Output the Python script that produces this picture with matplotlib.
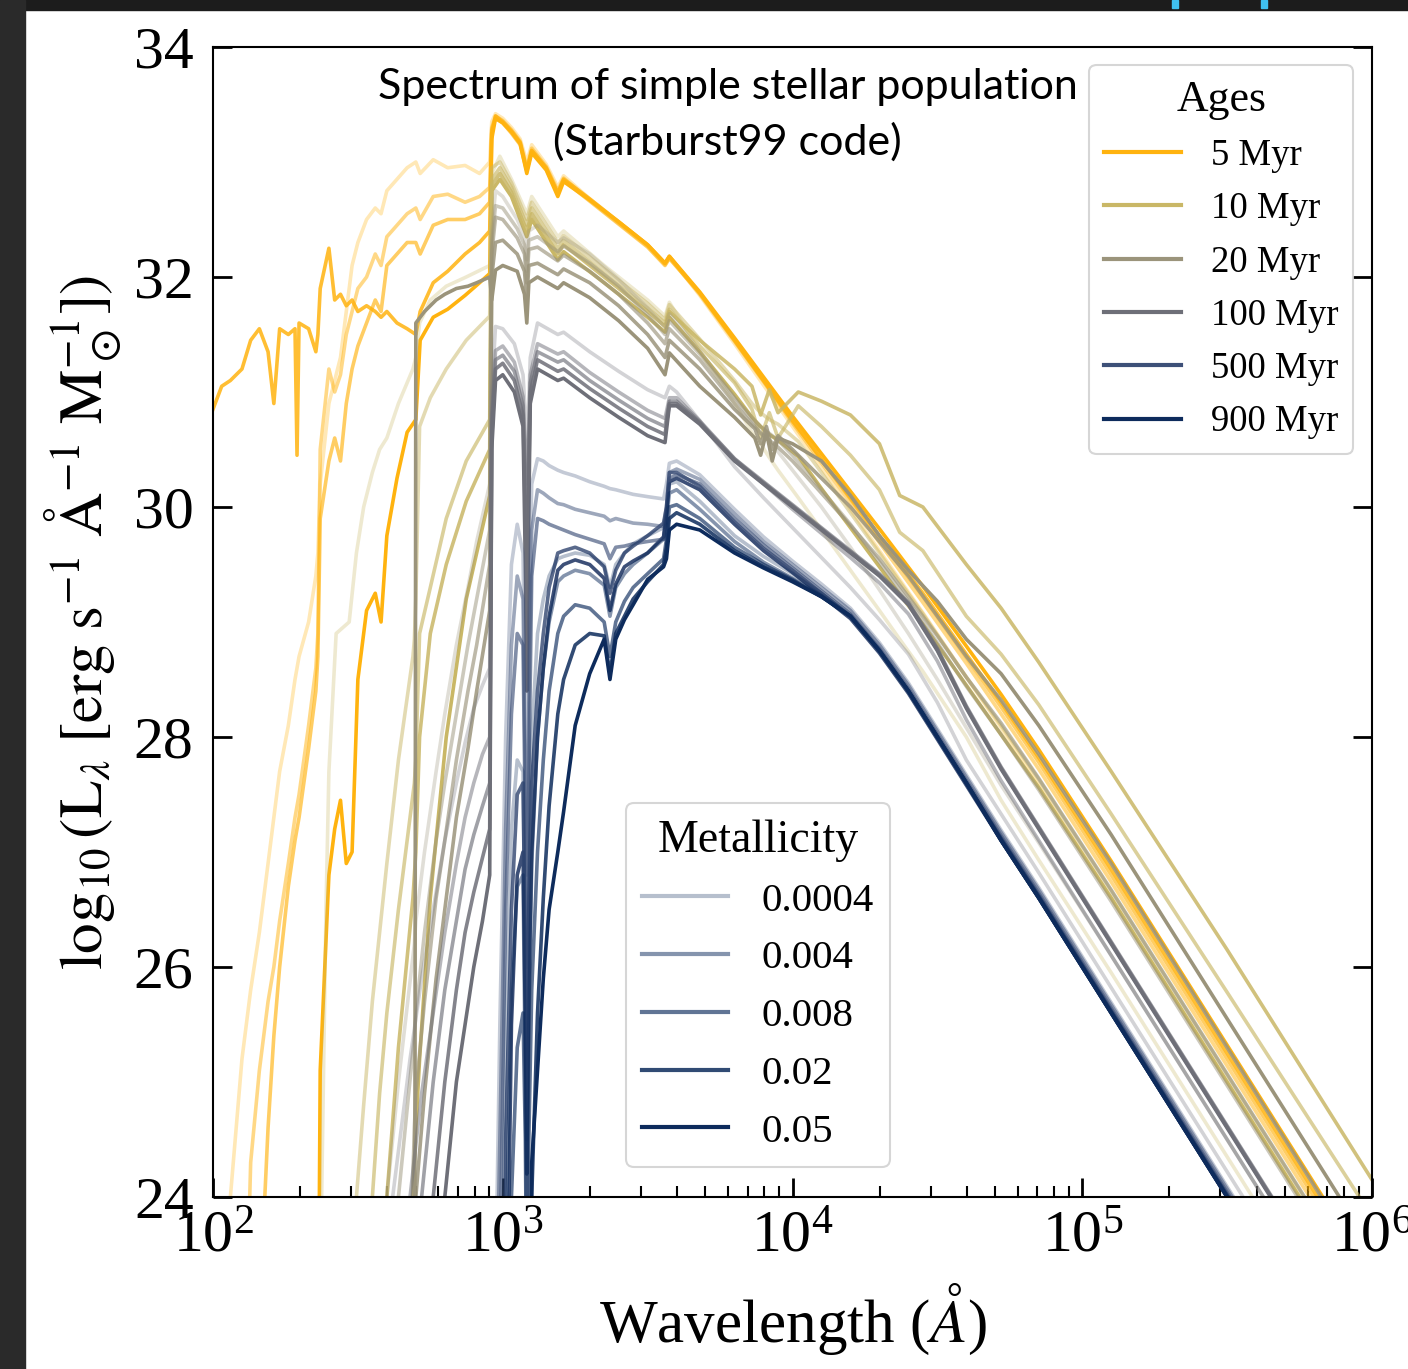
import numpy as np
import matplotlib.pyplot as plt
from matplotlib.lines import Line2D
from matplotlib.patches import Rectangle

plt.rcParams['font.family'] = ['Liberation Serif', 'DejaVu Serif']
plt.rcParams['mathtext.fontset'] = 'stix'

ages = ['5 Myr', '10 Myr', '20 Myr', '100 Myr', '500 Myr', '900 Myr']
age_colors = ['#FFB30F', '#C9B766', '#9B947B', '#6E6F78', '#3D5078', '#0D2B5C']
metallicities = ['0.0004', '0.004', '0.008', '0.02', '0.05']
z_alpha = [0.3, 0.5, 0.65, 0.85, 1.0]

# log10(wavelength / A) grids, one per age; rows of lum = one per metallicity
wave_5myr = [2.00, 2.03, 2.06, 2.10, 2.13, 2.16, 2.19, 2.21, 2.23, 2.26,
             2.283, 2.29, 2.297, 2.33, 2.355, 2.362, 2.37, 2.40, 2.42, 2.44,
             2.46, 2.48, 2.50, 2.53, 2.56, 2.58, 2.60, 2.635, 2.67, 2.70,
             2.715, 2.76, 2.81, 2.87, 2.92, 2.955,
             2.962, 2.975, 3.00, 3.03, 3.06, 3.083, 3.10, 3.15, 3.19, 3.21,
             3.30, 3.40, 3.50, 3.56, 3.575,
             3.68, 3.80, 3.90, 4.00, 4.15, 4.30, 4.45, 4.60, 4.72, 4.85, 5.10, 5.50, 6.00]
lum_5myr = [
    [20.0, 21.5, 24.0, 25.2, 25.8, 26.3, 26.9, 27.3, 27.7, 28.1,
     28.5, 28.6, 28.7, 29.0, 29.4, 29.6, 30.2, 30.9, 31.1, 31.3,
     31.7, 32.1, 32.3, 32.5, 32.6, 32.55, 32.75, 32.85, 32.95, 33.0,
     32.9, 33.02, 32.95, 32.97, 32.9, 33.0,
     33.35, 33.42, 33.38, 33.3, 33.2, 33.0, 33.15, 32.98, 32.78, 32.88,
     32.68, 32.48, 32.28, 32.12, 32.18,
     31.84, 31.42, 31.06, 30.7, 30.16, 29.62, 29.08, 28.52, 28.08, 27.58, 26.6, 25.0, 23.0],
    [20.0, 20.0, 20.0, 21.5, 24.3, 25.1, 25.7, 26.0, 26.4, 26.9,
     27.3, 27.4, 27.5, 28.1, 28.6, 28.9, 30.5, 31.2, 31.0, 31.15,
     31.5, 31.7, 31.9, 32.0, 32.2, 32.1, 32.35, 32.45, 32.55, 32.6,
     32.5, 32.7, 32.72, 32.65, 32.7, 32.78,
     33.3, 33.4, 33.36, 33.28, 33.18, 32.95, 33.12, 32.96, 32.75, 32.86,
     32.67, 32.47, 32.27, 32.11, 32.17,
     31.85, 31.44, 31.09, 30.73, 30.21, 29.69, 29.17, 28.64, 28.2, 27.72, 26.74, 25.14, 23.14],
    [20.0, 20.0, 20.0, 20.0, 20.0, 23.0, 24.6, 25.4, 26.0, 26.7,
     27.1, 27.2, 27.3, 27.9, 28.4, 28.7, 29.9, 30.4, 30.6, 30.4,
     30.9, 31.2, 31.4, 31.6, 31.8, 31.7, 32.1, 32.2, 32.3, 32.3,
     32.2, 32.45, 32.5, 32.5, 32.55, 32.65,
     33.28, 33.38, 33.34, 33.25, 33.15, 32.92, 33.1, 32.94, 32.72, 32.84,
     32.66, 32.46, 32.26, 32.1, 32.16,
     31.86, 31.45, 31.1, 30.75, 30.24, 29.73, 29.22, 28.69, 28.26, 27.78, 26.8, 25.2, 23.2],
    [30.85, 31.05, 31.1, 31.2, 31.45, 31.55, 31.35, 30.9, 31.55, 31.5,
     31.55, 30.45, 31.6, 31.55, 31.35, 31.5, 31.9, 32.25, 31.8, 31.85,
     31.75, 31.8, 31.7, 31.75, 31.7, 31.65, 31.7, 31.6, 31.55, 31.5,
     31.7, 31.95, 32.05, 32.2, 32.3, 32.4,
     33.25, 33.4, 33.35, 33.27, 33.17, 32.93, 33.1, 32.95, 32.73, 32.85,
     32.68, 32.48, 32.28, 32.12, 32.18,
     31.86, 31.45, 31.1, 30.75, 30.25, 29.75, 29.25, 28.72, 28.3, 27.82, 26.85, 25.25, 23.25],
    [20.0, 20.0, 20.0, 20.0, 20.0, 20.0, 20.0, 20.0, 20.0, 20.0,
     20.0, 20.0, 20.0, 20.0, 20.0, 22.0, 25.1, 26.8, 27.2, 27.45,
     26.9, 27.0, 28.5, 29.1, 29.25, 29.0, 29.75, 30.25, 30.65, 30.76,
     31.45, 31.65, 31.72, 31.84, 31.95, 32.03,
     33.2, 33.38, 33.34, 33.26, 33.16, 32.9, 33.08, 32.93, 32.7, 32.83,
     32.67, 32.48, 32.28, 32.12, 32.18,
     31.87, 31.47, 31.13, 30.79, 30.3, 29.81, 29.31, 28.79, 28.37, 27.89, 26.92, 25.32, 23.32],
]

wave_10myr = [2.36, 2.375, 2.39, 2.40, 2.425, 2.47, 2.495, 2.52, 2.55, 2.575,
              2.60, 2.64, 2.69, 2.695, 2.70, 2.713, 2.75, 2.805, 2.874, 2.955,
              2.962, 2.99, 3.03, 3.083, 3.10, 3.19, 3.21, 3.35, 3.50, 3.56, 3.575,
              3.68, 3.80, 3.86, 3.89, 3.92, 3.95, 4.02, 4.10, 4.20, 4.30,
              4.37, 4.45, 4.60, 4.72, 4.85, 5.10, 5.50, 6.00]
lum_10myr = [
    [20.0, 24.0, 26.5, 27.7, 28.9, 29.0, 29.6, 30.0, 30.3, 30.5,
     30.6, 30.9, 31.2, 31.25, 31.3, 31.6, 31.8, 31.92, 32.0, 32.1,
     32.9, 33.05, 32.85, 32.55, 32.7, 32.35, 32.4, 32.1, 31.8, 31.66, 31.78,
     31.35, 30.9, 30.65, 30.55, 30.43, 30.32, 30.08, 29.8, 29.45, 29.1,
     28.85, 28.57, 28.0, 27.45, 26.93, 25.95, 24.35, 22.35],
    [20.0, 20.0, 20.0, 20.0, 20.0, 20.0, 24.0, 24.8, 25.7, 26.3,
     26.9, 27.8, 28.7, 28.85, 29.2, 30.7, 30.95, 31.2, 31.45, 31.66,
     32.95, 33.0, 32.82, 32.5, 32.65, 32.3, 32.36, 32.07, 31.77, 31.63, 31.76,
     31.46, 31.1, 30.9, 30.82, 30.76, 30.72, 30.57, 30.3, 29.95, 29.6,
     29.35, 29.07, 28.52, 28.1, 27.63, 26.66, 25.06, 23.06],
    [20.0, 20.0, 20.0, 20.0, 20.0, 20.0, 20.0, 22.0, 24.0, 24.9,
     25.6, 26.5, 27.5, 27.6, 27.8, 28.9, 29.3, 29.9, 30.4, 30.76,
     32.85, 32.95, 32.78, 32.45, 32.6, 32.25, 32.32, 32.03, 31.73, 31.6, 31.72,
     31.4, 31.08, 30.85, 30.6, 30.82, 30.6, 30.88, 30.7, 30.45, 30.15,
     29.78, 29.62, 29.05, 28.72, 28.28, 27.33, 25.78, 23.83],
    [20.0, 20.0, 20.0, 20.0, 20.0, 20.0, 20.0, 20.0, 20.0, 22.0,
     24.0, 25.3, 26.6, 26.8, 27.0, 28.0, 28.9, 29.5, 30.05, 30.5,
     32.8, 32.9, 32.74, 32.4, 32.55, 32.2, 32.28, 32.0, 31.7, 31.57, 31.7,
     31.45, 31.2, 31.05, 30.8, 31.02, 30.82, 31.0, 30.92, 30.8, 30.55,
     30.1, 30.0, 29.5, 29.12, 28.65, 27.7, 26.15, 24.15],
    [20.0, 20.0, 20.0, 20.0, 20.0, 20.0, 20.0, 20.0, 20.0, 20.0,
     20.0, 22.0, 24.0, 24.3, 24.6, 25.2, 26.6, 28.0, 29.2, 30.1,
     32.75, 32.85, 32.7, 32.35, 32.5, 32.15, 32.22, 31.95, 31.65, 31.52, 31.65,
     31.35, 30.98, 30.78, 30.7, 30.63, 30.58, 30.44, 30.16, 29.82, 29.48,
     29.24, 28.98, 28.45, 28.02, 27.56, 26.6, 25.0, 23.0],
]

wave_20myr = [2.60, 2.64, 2.695, 2.70, 2.73, 2.77, 2.80, 2.84, 2.88, 2.91, 2.955,
              2.962, 2.975, 3.00, 3.05, 3.075, 3.083, 3.09, 3.12, 3.19, 3.21,
              3.30, 3.40, 3.50, 3.56, 3.575,
              3.68, 3.80, 3.87, 3.89, 3.91, 3.93, 3.95, 4.00, 4.10, 4.20,
              4.30, 4.40, 4.50, 4.60, 4.72, 4.85, 5.10, 5.50, 6.00]
lum_20myr = [
    [24.0, 25.0, 26.2, 26.4, 27.0, 27.7, 28.2, 28.8, 29.3, 29.7, 30.2,
     32.4, 32.75, 32.7, 32.5, 32.35, 32.15, 32.4, 32.45, 32.3, 32.34,
     32.2, 31.98, 31.73, 31.56, 31.68,
     31.36, 30.95, 30.72, 30.65, 30.6, 30.54, 30.48, 30.32, 30.0, 29.65,
     29.28, 28.9, 28.5, 28.08, 27.58, 27.08, 26.1, 24.5, 22.5],
    [20.0, 24.0, 25.4, 25.6, 26.3, 27.1, 27.6, 28.2, 28.8, 29.2, 29.8,
     32.3, 32.62, 32.6, 32.42, 32.28, 32.05, 32.32, 32.35, 32.22, 32.27,
     32.12, 31.92, 31.67, 31.5, 31.62,
     31.33, 30.95, 30.75, 30.7, 30.66, 30.62, 30.58, 30.45, 30.15, 29.85,
     29.52, 29.18, 28.82, 28.44, 28.02, 27.54, 26.57, 24.97, 22.97],
    [20.0, 20.0, 24.6, 24.9, 25.7, 26.6, 27.1, 27.8, 28.4, 28.8, 29.5,
     32.2, 32.52, 32.5, 32.34, 32.2, 31.95, 32.24, 32.26, 32.14, 32.19,
     32.05, 31.85, 31.6, 31.42, 31.55,
     31.28, 30.9, 30.7, 30.64, 30.6, 30.56, 30.52, 30.4, 30.12, 29.84,
     29.55, 29.22, 28.88, 28.52, 28.12, 27.64, 26.67, 25.07, 23.07],
    [20.0, 20.0, 22.0, 24.0, 24.9, 25.9, 26.5, 27.3, 27.9, 28.4, 29.1,
     32.0, 32.3, 32.32, 32.2, 32.05, 31.8, 32.1, 32.12, 32.02, 32.07,
     31.95, 31.75, 31.5, 31.3, 31.45,
     31.2, 30.85, 30.68, 30.55, 30.7, 30.5, 30.62, 30.5, 30.25, 30.0,
     29.7, 29.4, 29.05, 28.7, 28.32, 27.85, 26.9, 25.3, 23.3],
    [20.0, 20.0, 20.0, 31.6, 31.7, 31.8, 31.85, 31.9, 31.92, 31.95, 32.0,
     31.8, 32.06, 32.1, 32.05, 31.85, 31.6, 31.95, 32.0, 31.9, 31.95,
     31.82, 31.62, 31.38, 31.15, 31.34,
     31.05, 30.78, 30.6, 30.45, 30.65, 30.4, 30.6, 30.55, 30.4, 30.1,
     29.75, 29.45, 29.18, 28.85, 28.55, 28.1, 27.15, 25.55, 23.55],
]

wave_100myr = [2.62, 2.68, 2.72, 2.76, 2.80, 2.84, 2.87, 2.90, 2.93, 2.955,
               2.962, 2.975, 3.00, 3.04, 3.07, 3.078, 3.083, 3.088, 3.095, 3.12,
               3.19, 3.21, 3.30, 3.40, 3.50, 3.56, 3.575,
               3.60, 3.68, 3.80, 3.90, 4.00, 4.10, 4.20, 4.30, 4.40, 4.50,
               4.60, 4.72, 4.85, 5.10, 5.50, 6.00]
lum_100myr = [
    [24.0, 25.2, 25.9, 26.5, 27.1, 27.6, 27.95, 28.25, 28.45, 28.6,
     31.0, 31.57, 31.55, 31.42, 31.15, 30.8, 30.2, 30.8, 31.3, 31.6,
     31.5, 31.52, 31.35, 31.18, 31.02, 30.95, 31.05,
     31.0, 30.75, 30.35, 30.08, 29.82, 29.56, 29.3, 29.02, 28.72, 28.3,
     27.8, 27.33, 26.82, 25.82, 24.22, 22.22],
    [20.0, 24.0, 24.9, 25.6, 26.3, 26.9, 27.3, 27.6, 27.85, 28.0,
     30.8, 31.36, 31.4, 31.26, 30.96, 30.5, 29.6, 30.5, 31.15, 31.42,
     31.33, 31.35, 31.17, 31.0, 30.84, 30.77, 30.95,
     30.95, 30.75, 30.42, 30.2, 29.98, 29.77, 29.56, 29.34, 29.07, 28.66,
     28.15, 27.62, 27.1, 26.1, 24.5, 22.5],
    [20.0, 20.0, 24.0, 25.0, 25.8, 26.4, 26.85, 27.15, 27.4, 27.6,
     30.7, 31.28, 31.32, 31.18, 30.88, 30.2, 29.3, 30.3, 31.08, 31.35,
     31.26, 31.28, 31.1, 30.93, 30.77, 30.7, 30.92,
     30.92, 30.74, 30.42, 30.22, 30.02, 29.82, 29.62, 29.42, 29.17, 28.77,
     28.27, 27.74, 27.22, 26.22, 24.62, 22.62],
    [20.0, 20.0, 20.0, 24.0, 25.0, 25.8, 26.3, 26.65, 26.95, 27.2,
     30.6, 31.2, 31.25, 31.1, 30.8, 29.9, 28.9, 30.0, 31.0, 31.28,
     31.18, 31.2, 31.03, 30.86, 30.7, 30.63, 30.9,
     30.9, 30.73, 30.41, 30.21, 30.01, 29.81, 29.61, 29.41, 29.16, 28.76,
     28.26, 27.73, 27.21, 26.21, 24.61, 22.61],
    [20.0, 20.0, 20.0, 20.0, 24.0, 25.0, 25.5, 26.0, 26.4, 26.8,
     30.5, 31.1, 31.15, 31.0, 30.7, 29.5, 28.4, 29.6, 30.9, 31.2,
     31.1, 31.12, 30.95, 30.78, 30.62, 30.56, 30.88,
     30.88, 30.72, 30.4, 30.2, 30.0, 29.8, 29.6, 29.4, 29.15, 28.75,
     28.25, 27.72, 27.2, 26.2, 24.6, 22.6],
]

wave_old = [2.955, 2.99, 3.01, 3.03, 3.05, 3.07, 3.078, 3.083, 3.09, 3.10,
            3.12, 3.14, 3.16, 3.19, 3.21, 3.25, 3.30, 3.35, 3.37, 3.39,
            3.42, 3.45, 3.50, 3.555, 3.565, 3.575, 3.60,
            3.68, 3.80, 3.90, 4.00, 4.10, 4.20, 4.30, 4.40, 4.50, 4.60,
            4.72, 4.85, 5.10, 5.50, 6.00]
lum_500myr = [
    [20.0, 25.5, 28.0, 29.5, 29.85, 29.6, 28.0, 26.8, 29.0, 30.2,
     30.42, 30.4, 30.36, 30.32, 30.3, 30.27, 30.22, 30.18, 30.16, 30.15,
     30.13, 30.11, 30.09, 30.07, 30.2, 30.38, 30.4,
     30.28, 29.98, 29.74, 29.53, 29.33, 29.12, 28.82, 28.47, 28.07, 27.67,
     27.19, 26.69, 25.69, 24.09, 22.09],
    [20.0, 24.5, 27.2, 28.8, 29.4, 29.2, 27.6, 26.0, 28.3, 29.8,
     30.15, 30.12, 30.08, 30.03, 30.02, 29.98, 29.95, 29.92, 29.88, 29.9,
     29.88, 29.86, 29.85, 29.83, 30.0, 30.3, 30.33,
     30.24, 29.94, 29.7, 29.5, 29.3, 29.1, 28.8, 28.45, 28.05, 27.65,
     27.17, 26.67, 25.67, 24.07, 22.07],
    [20.0, 23.5, 26.5, 28.2, 28.9, 28.8, 27.2, 25.5, 27.6, 29.4,
     29.9, 29.88, 29.85, 29.82, 29.8, 29.76, 29.72, 29.68, 29.55, 29.65,
     29.66, 29.68, 29.7, 29.72, 29.95, 30.25, 30.28,
     30.2, 29.9, 29.67, 29.47, 29.27, 29.07, 28.77, 28.42, 28.02, 27.62,
     27.14, 26.64, 25.64, 24.04, 22.04],
    [20.0, 20.0, 24.5, 26.5, 27.5, 27.6, 26.0, 25.0, 26.5, 27.6,
     28.4, 28.9, 29.3, 29.6, 29.62, 29.65, 29.6, 29.48, 29.25, 29.45,
     29.6, 29.66, 29.75, 29.86, 30.0, 30.3, 30.3,
     30.18, 29.87, 29.64, 29.45, 29.25, 29.05, 28.75, 28.4, 28.0, 27.6,
     27.12, 26.62, 25.62, 24.02, 22.02],
    [20.0, 20.0, 22.0, 25.5, 26.8, 27.0, 25.5, 24.2, 25.8, 27.0,
     28.0, 28.6, 29.05, 29.45, 29.5, 29.54, 29.5, 29.38, 29.1, 29.33,
     29.48, 29.53, 29.6, 29.74, 29.95, 30.22, 30.25,
     30.15, 29.85, 29.62, 29.43, 29.23, 29.03, 28.73, 28.38, 27.98, 27.58,
     27.1, 26.6, 25.6, 24.0, 22.0],
]
lum_900myr = [
    [20.0, 22.0, 25.5, 27.2, 27.8, 27.7, 26.0, 24.5, 26.6, 28.0,
     28.9, 29.2, 29.4, 29.55, 29.57, 29.6, 29.58, 29.5, 29.3, 29.5,
     29.6, 29.68, 29.75, 29.82, 29.95, 30.2, 30.22,
     30.05, 29.75, 29.57, 29.42, 29.25, 29.06, 28.76, 28.4, 28.0, 27.6,
     27.12, 26.62, 25.62, 24.02, 22.02],
    [20.0, 20.0, 23.5, 25.8, 26.7, 26.8, 25.0, 23.5, 25.5, 26.9,
     28.0, 28.6, 29.0, 29.35, 29.4, 29.45, 29.42, 29.32, 29.05, 29.3,
     29.42, 29.5, 29.6, 29.72, 29.88, 30.12, 30.15,
     29.98, 29.7, 29.52, 29.38, 29.23, 29.05, 28.75, 28.4, 28.0, 27.6,
     27.11, 26.61, 25.61, 24.01, 22.01],
    [20.0, 20.0, 20.0, 24.0, 25.3, 25.6, 24.5, 23.0, 24.5, 25.8,
     27.0, 27.8, 28.4, 28.9, 29.05, 29.15, 29.12, 29.0, 28.7, 29.0,
     29.18, 29.3, 29.42, 29.55, 29.72, 30.0, 30.02,
     29.9, 29.65, 29.5, 29.37, 29.22, 29.05, 28.75, 28.4, 28.0, 27.6,
     27.1, 26.6, 25.6, 24.0, 22.0],
    [20.0, 20.0, 20.0, 20.0, 22.0, 23.5, 22.5, 21.0, 22.5, 24.0,
     25.6, 26.6, 27.4, 28.2, 28.5, 28.8, 28.9, 28.88, 28.55, 28.9,
     29.05, 29.2, 29.35, 29.5, 29.65, 29.9, 29.95,
     29.85, 29.62, 29.48, 29.36, 29.22, 29.05, 28.75, 28.4, 28.0, 27.6,
     27.1, 26.6, 25.6, 24.0, 22.0],
    [20.0, 20.0, 20.0, 20.0, 20.0, 20.0, 20.0, 20.0, 21.0, 24.3,
     25.1, 25.9, 26.5, 27.0, 27.35, 28.1, 28.55, 28.85, 28.5, 28.85,
     29.02, 29.15, 29.37, 29.48, 29.55, 29.8, 29.85,
     29.8, 29.6, 29.47, 29.35, 29.22, 29.05, 28.75, 28.4, 28.0, 27.6,
     27.1, 26.6, 25.6, 24.0, 22.0],
]

grids = [wave_5myr, wave_10myr, wave_20myr, wave_100myr, wave_old, wave_old]
lums = [lum_5myr, lum_10myr, lum_20myr, lum_100myr, lum_500myr, lum_900myr]

fig = plt.figure(figsize=(14.08, 13.69), dpi=100)
ax = fig.add_axes([213 / 1408, 1 - 1197 / 1369, 1159 / 1408, 1150 / 1369])

for grid, rows, color in zip(grids, lums, age_colors):
    for row, a in zip(rows, z_alpha):
        ax.plot(10 ** np.array(grid), row, color=color, alpha=a, lw=2.6)

ax.set_xscale('log')
ax.set_xlim(1e2, 1e6)
ax.set_ylim(24, 34)
ax.set_yticks([24, 26, 28, 30, 32, 34])
ax.tick_params(which='major', direction='in', length=14, width=2, labelsize=43,
               right=True, top=False)
ax.tick_params(axis='x', which='major', pad=10)
ax.tick_params(axis='y', which='major', pad=14)
ax.tick_params(axis='x', which='minor', direction='in', length=8, width=1.5, top=False)
for s in ax.spines.values():
    s.set_linewidth(1.5)

ax.set_xlabel(r'Wavelength ($\AA$)', fontsize=44, labelpad=12)
ax.set_ylabel(r'$\log_{10}(\mathrm{L}_\lambda\ [\mathrm{erg\ s}^{-1}\ \mathrm{\AA}^{-1}\ \mathrm{M}_\odot^{-1}])$',
              fontsize=44, labelpad=8)

ax.text(0.444, 0.982, 'Spectrum of simple stellar population\n(Starburst99 code)',
        transform=ax.transAxes, ha='center', va='top', fontsize=31,
        family=['Lato', 'DejaVu Sans'], linespacing=1.5)

age_handles = [Line2D([], [], color=c, lw=3) for c in age_colors]
leg1 = ax.legend(age_handles, ages, title='Ages', loc='upper right',
                 bbox_to_anchor=(0.9836, 0.9843), borderaxespad=0,
                 fontsize=26.5, title_fontsize=31.5, fancybox=True,
                 edgecolor='#cccccc', framealpha=0.8, handlelength=2.1,
                 handletextpad=0.8, labelspacing=0.51)
leg1.get_frame().set_linewidth(1.5)
ax.add_artist(leg1)

met_handles = [Line2D([], [], color=age_colors[-1], alpha=a, lw=3) for a in z_alpha]
leg2 = ax.legend(met_handles, metallicities, title='Metallicity', loc='upper left',
                 bbox_to_anchor=(0.3563, 0.3426), borderaxespad=0,
                 fontsize=29.5, title_fontsize=33, fancybox=True,
                 edgecolor='#cccccc', framealpha=0.8, handlelength=2.1,
                 handletextpad=0.8, labelspacing=0.49)
leg2.get_frame().set_linewidth(1.5)

# dark screen border of the screenshot
fig.patches.append(Rectangle((0, 1 - 10 / 1369), 1, 10 / 1369, transform=fig.transFigure,
                             color='#1c1c1c', zorder=10))
fig.patches.append(Rectangle((0, 0), 25 / 1408, 1, transform=fig.transFigure,
                             color='#2a2a2a', zorder=10))
for cx in [1172, 1261]:
    fig.patches.append(Rectangle((cx / 1408, 1 - 8 / 1369), 6 / 1408, 8 / 1369,
                                 transform=fig.transFigure, color='#3fc1f0', zorder=11))

fig.savefig('out.png', dpi=100)
